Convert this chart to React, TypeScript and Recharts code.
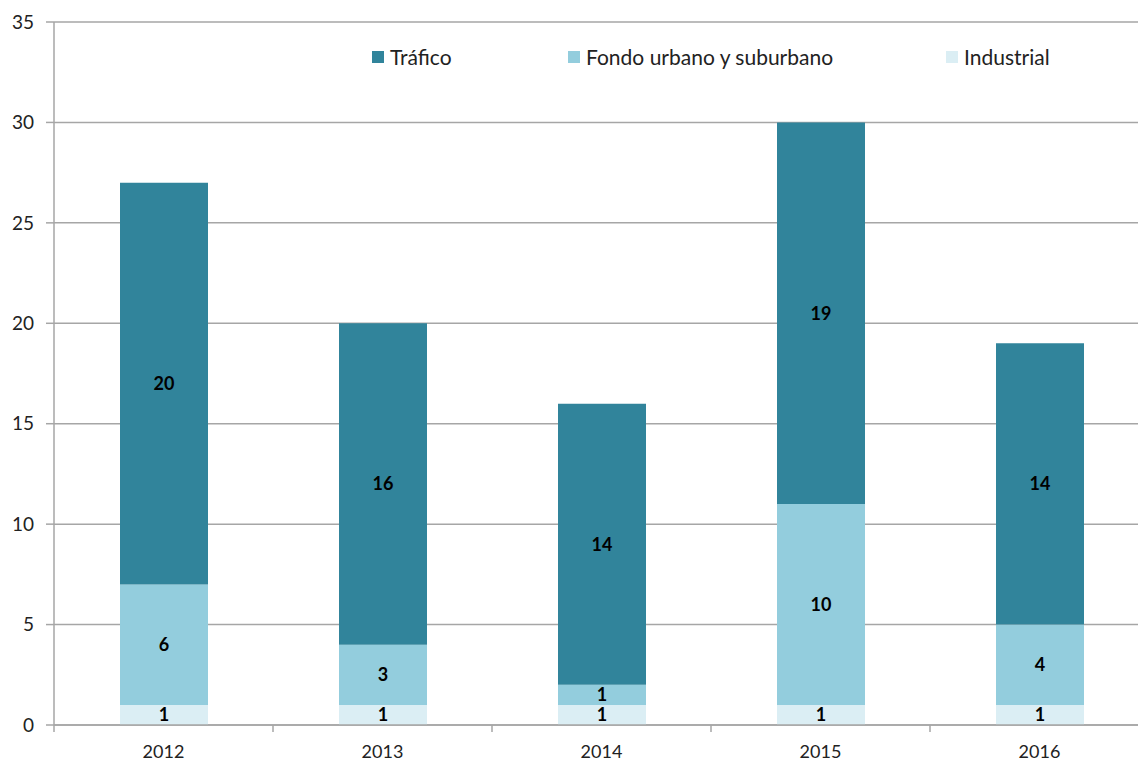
import React from 'react';
import {
  BarChart,
  Bar,
  XAxis,
  YAxis,
  CartesianGrid,
  Legend,
  LabelList
} from 'recharts';

const years = ['2012', '2013', '2014', '2015', '2016'];
const industrial = [1, 1, 1, 1, 1];
const fondo = [6, 3, 1, 10, 4];
const trafico = [20, 16, 14, 19, 14];
const yTicks = [0, 5, 10, 15, 20, 25, 30, 35];

const data = years.map((year, i) => ({
  year,
  industrial: industrial[i],
  fondo: fondo[i],
  trafico: trafico[i]
}));

const FONT = 'Lato, "Open Sans", sans-serif';
const AXIS = '#a6a6a6';

const legendItems = [
  { label: 'Tráfico', color: '#31849b', width: 196 },
  { label: 'Fondo urbano y suburbano', color: '#93cddd', width: 378 },
  { label: 'Industrial', color: '#dbeef4', width: 120 }
];

const LegendContent = () => (
  <div style={{ display: 'flex', fontFamily: FONT, fontSize: 21, color: '#222' }}>
    {legendItems.map((it) => (
      <div key={it.label} style={{ width: it.width, display: 'flex', alignItems: 'center' }}>
        <span style={{ width: 12, height: 12, background: it.color, marginRight: 6, display: 'inline-block' }} />
        <span>{it.label}</span>
      </div>
    ))}
  </div>
);

// category ticks sit on the band boundaries, labels in the middle
const XTick = (props: any) => {
  const { x, y, payload, index, width } = props;
  const band = width / years.length;
  const axisY = y - 8;
  return (
    <g>
      <line x1={x - band / 2} x2={x - band / 2} y1={axisY} y2={axisY + 7} stroke={AXIS} strokeWidth={1.5} />
      {index === years.length - 1 && (
        <line x1={x + band / 2} x2={x + band / 2} y1={axisY} y2={axisY + 7} stroke={AXIS} strokeWidth={1.5} />
      )}
      <text x={x} y={axisY + 33} textAnchor="middle" fontSize={18} fontFamily={FONT} fill="#222">
        {payload.value}
      </text>
    </g>
  );
};

const labelStyle = { fontSize: 18, fontWeight: 700, fontFamily: FONT, fill: '#000' };

export default function App() {
  return (
    <div style={{ position: 'absolute', left: 0, top: 0, width: 1138, height: 762, overflow: 'hidden', background: '#fff' }}>
      <BarChart
        width={1149}
        height={762}
        data={data}
        margin={{ top: 22, right: 0, bottom: 0, left: 0 }}
        barSize={88}
      >
        <CartesianGrid vertical={false} stroke={AXIS} strokeWidth={1.5} />
        <XAxis
          dataKey="year"
          height={37}
          axisLine={{ stroke: AXIS, strokeWidth: 1.5 }}
          tickLine={false}
          tick={<XTick />}
          interval={0}
        />
        <YAxis
          width={54}
          domain={[0, 35]}
          ticks={yTicks}
          axisLine={{ stroke: AXIS, strokeWidth: 1.5 }}
          tickLine={{ stroke: AXIS, strokeWidth: 1.5 }}
          tickSize={8}
          tickMargin={12}
          tick={{ fontSize: 19, fontFamily: FONT, fill: '#222' }}
        />
        <Legend
          verticalAlign="middle"
          layout="horizontal"
          content={<LegendContent />}
          wrapperStyle={{ top: 44, left: 372, width: 720 }}
        />
        <Bar dataKey="industrial" stackId="a" fill="#dbeef4" isAnimationActive={false}>
          <LabelList dataKey="industrial" position="center" style={labelStyle} />
        </Bar>
        <Bar dataKey="fondo" stackId="a" fill="#93cddd" isAnimationActive={false}>
          <LabelList dataKey="fondo" position="center" style={labelStyle} />
        </Bar>
        <Bar dataKey="trafico" stackId="a" fill="#31849b" isAnimationActive={false}>
          <LabelList dataKey="trafico" position="center" style={labelStyle} />
        </Bar>
      </BarChart>
    </div>
  );
}
